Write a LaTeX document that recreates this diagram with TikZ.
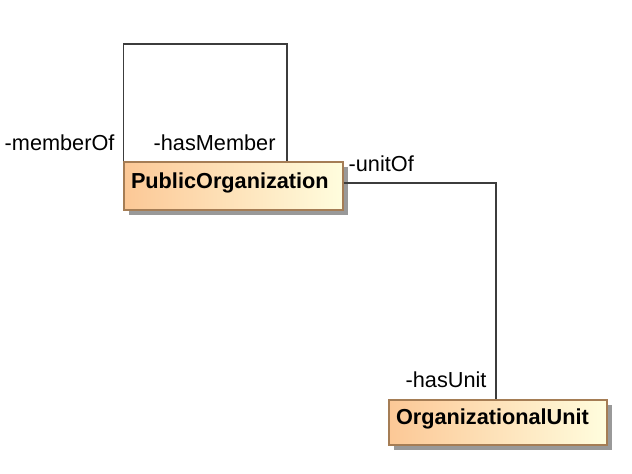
\documentclass[tikz,border=0pt]{standalone}
\usepackage{fontspec}
\setmainfont{Liberation Sans}
\usetikzlibrary{shadows}
\definecolor{clsleft}{RGB}{252,200,150}
\definecolor{clsright}{RGB}{255,253,222}
\definecolor{clsborder}{RGB}{165,125,85}
\definecolor{wire}{RGB}{60,60,60}

\begin{document}
\begin{tikzpicture}[x=1pt,y=1pt,line width=1.4pt,font=\fontsize{21.7}{26}\selectfont,
  cls/.style={draw=clsborder,line width=1.2pt,left color=clsleft,right color=clsright,
    inner xsep=7pt,inner ysep=0pt,text height=15.5pt,text depth=11.5pt,align=left,
    font=\fontsize{21.7}{26}\selectfont\bfseries,
    drop shadow={shadow xshift=5pt,shadow yshift=-5pt,fill=black!40,opacity=1}},
  role/.style={anchor=base west,inner sep=0pt}]
\useasboundingbox (0,0) rectangle (632,-474);
\node[cls,text width=205pt,minimum height=48pt] (pubOrg) at (233.5,-186) {PublicOrganization};
\node[cls,text width=204pt,minimum height=45pt] (orgUnit) at (498,-422.5) {OrganizationalUnit};
\coordinate (loop) at (287,-44);
\coordinate (bend) at (496,-183);
\draw[color=wire] (pubOrg.north west) |- (loop) -- (loop |- pubOrg.north);
\draw[color=wire] (bend -| pubOrg.east) -- (bend) -- (bend |- orgUnit.north);
\node[role] (memberOf) at (4,-150) {-memberOf};
\node[role] (hasMember) at (153,-150) {-hasMember};
\node[role] (unitOf) at (348,-171) {-unitOf};
\node[role] (hasUnit) at (405,-387) {-hasUnit};
\end{tikzpicture}
\end{document}
